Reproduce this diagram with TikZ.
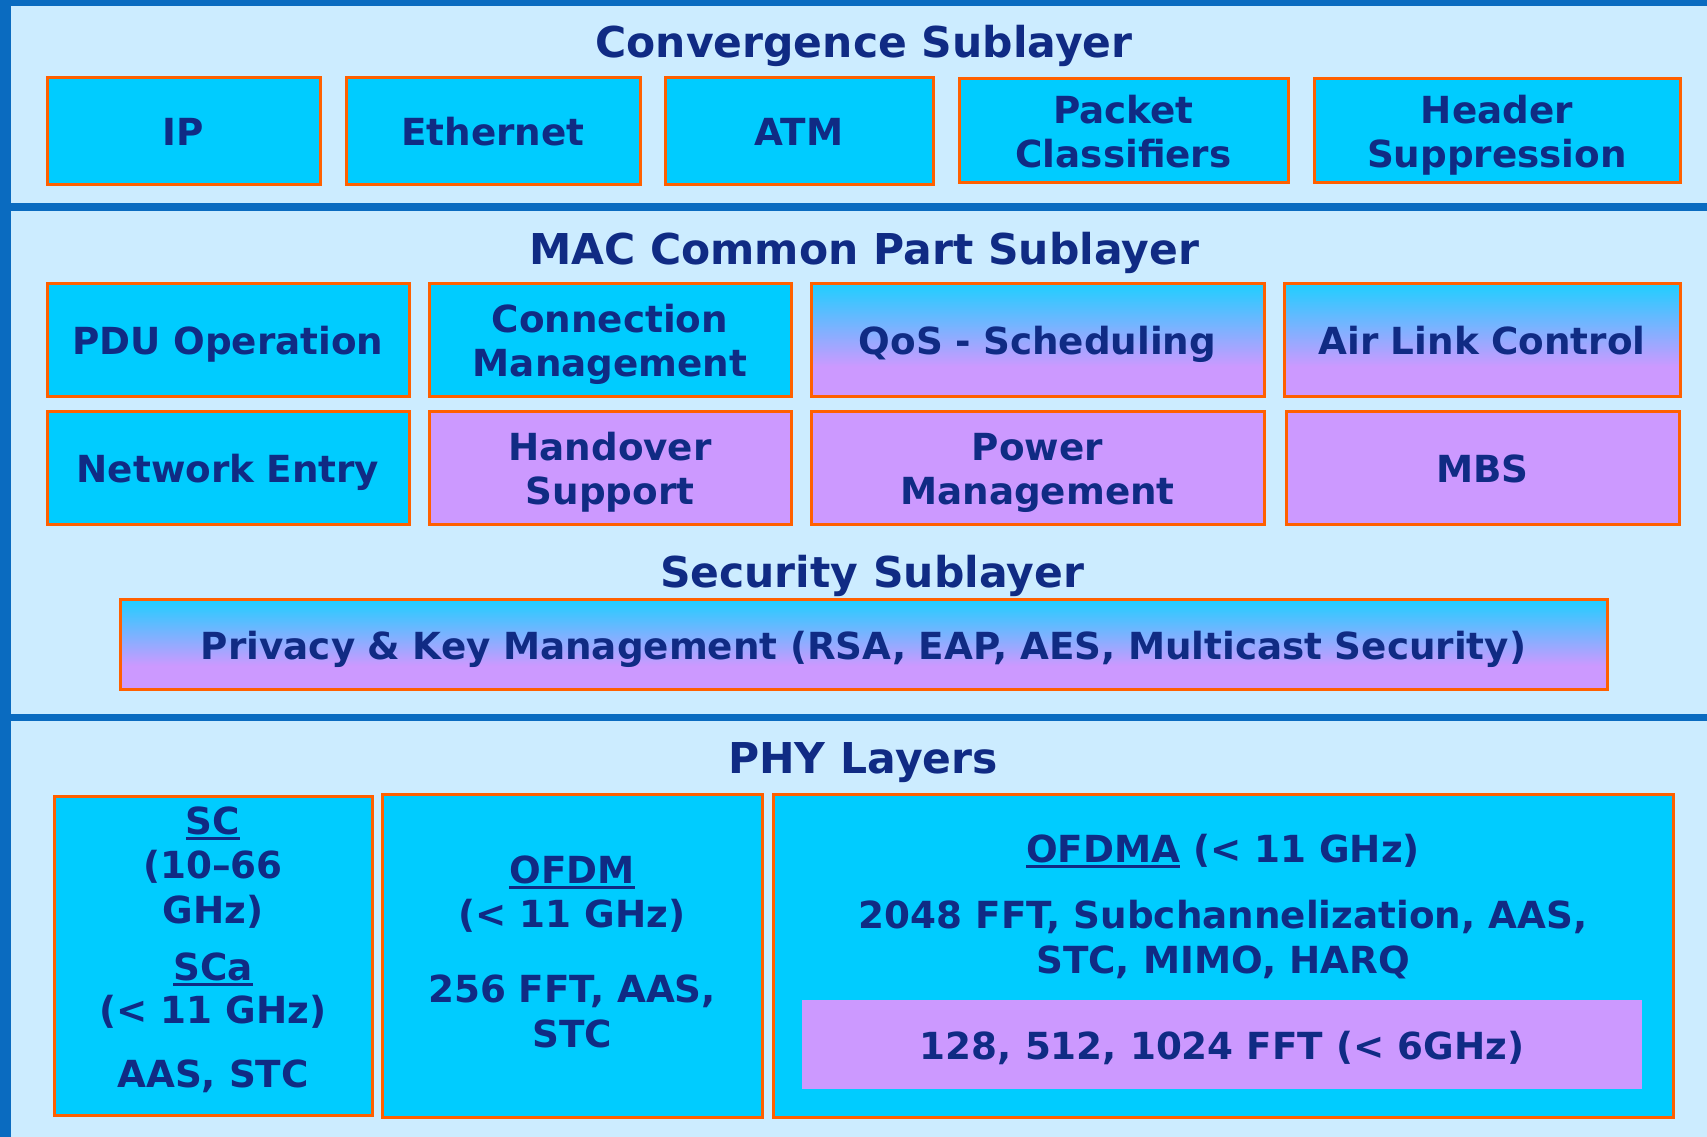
\documentclass[tikz,border=0pt]{standalone}
\usepackage{fontspec}
\setmainfont{DejaVu Sans}
\definecolor{bg}{HTML}{CCECFF}
\definecolor{stripe}{HTML}{0A6BC0}
\definecolor{cy}{HTML}{00CCFF}
\definecolor{lav}{HTML}{CC99FF}
\definecolor{cyT}{HTML}{1ECFFF}
\definecolor{edge}{HTML}{FF6000}
\definecolor{navy}{HTML}{102B84}
\pgfdeclareverticalshading{cylav}{100bp}{color(0bp)=(lav); color(38bp)=(lav); color(75bp)=(cyT); color(100bp)=(cyT)}
\newcommand\boxfont{\fontsize{37.3pt}{44pt}\selectfont\bfseries}
\newcommand\titlefont{\fontsize{42.5pt}{50pt}\selectfont\bfseries}
\newcommand\myul[1]{\setbox0\hbox{#1}\rlap{\rule[-6pt]{\wd0}{3pt}}\box0\relax}
\tikzset{
  box/.style={draw=edge, line width=3pt, inner sep=0pt, text=navy, font=\boxfont, align=center},
  cbox/.style={box, fill=cy},
  pbox/.style={box, fill=lav},
  gbox/.style={box, shade, shading=cylav},
  one/.style={text height=30pt, text depth=0pt},
  two/.style={text height=29pt, text depth=43pt},
  sz/.style 2 args={minimum width=#1pt, minimum height=#2pt, text width=#1pt-12pt},
  ttl/.style={anchor=base, text=navy, font=\titlefont, inner sep=0pt},
  lbl/.style={anchor=base, text=navy, font=\boxfont, inner sep=0pt},
}
\begin{document}
\begin{tikzpicture}[x=1pt, y=-1pt]
\useasboundingbox (0,0) rectangle (1707,1137);
\fill[bg] (0,0) rectangle (1707,1137);
\fill[stripe] (0,0) rectangle (1707,6);
\fill[stripe] (0,0) rectangle (11,1137);
\fill[stripe] (11,203) rectangle (1707,211);
\fill[stripe] (11,714) rectangle (1707,721);

% Convergence Sublayer
\node[ttl] (tcs) at (864,58) {Convergence Sublayer};
\node[cbox, one, sz={273}{106}] (ip) at (183.5,131) {IP};
\node[cbox, one, sz={294}{106}] (eth) at (493,131) {Ethernet};
\node[cbox, one, sz={268}{106}] (atm) at (799,131) {ATM};
\node[cbox, two, sz={329}{104}] (pc) at (1123.5,130.5) {Packet\\Classifiers};
\node[cbox, two, sz={366}{104}] (hs) at (1497,130.5) {Header\\Suppression};

% MAC Common Part Sublayer
\node[ttl] (tmac) at (864,264) {MAC Common Part Sublayer};
\node[cbox, one, sz={362}{113}] (pdu) at (228,339.5) {PDU Operation};
\node[cbox, two, sz={362}{113}] (cm) at (610,339.5) {Connection\\Management};
\node[gbox, one, sz={453}{113}] (qos) at (1037.5,339.5) {QoS - Scheduling};
\node[gbox, one, sz={396}{113}] (alc) at (1482,339.5) {Air Link Control};
\node[cbox, one, sz={362}{113}] (ne) at (228,467.5) {Network Entry};
\node[pbox, two, sz={362}{113}] (hos) at (610,467.5) {Handover\\Support};
\node[pbox, two, sz={453}{113}] (pm) at (1037.5,467.5) {Power\\Management};
\node[pbox, one, sz={393}{113}] (mbs) at (1482.5,467.5) {MBS};

% Security Sublayer
\node[ttl] (tsec) at (872,587) {Security Sublayer};
\node[gbox, one, sz={1487}{90}] (pkm) at (863.5,644) {Privacy \& Key Management (RSA, EAP, AES, Multicast Security)};

% PHY Layers
\node[ttl] (tphy) at (863,773) {PHY Layers};
\node[cbox, minimum width=318pt, minimum height=319pt] (sc) at (213,955.5) {};
\node[cbox, minimum width=380pt, minimum height=323pt] (ofdm) at (572,955.5) {};
\node[cbox, minimum width=900pt, minimum height=323pt] (ofdma) at (1223,955.5) {};
\node[fill=lav, inner sep=0pt, minimum width=840pt, minimum height=89pt] (fft) at (1222,1044.5) {};

\node[lbl] (sc1) at (213,834) {\myul{SC}};
\node[lbl] (sc2) at (213,878) {(10–66};
\node[lbl] (sc3) at (213,923) {GHz)};
\node[lbl] (sc4) at (213,980) {\myul{SCa}};
\node[lbl] (sc5) at (213,1023) {(< 11 GHz)};
\node[lbl] (sc6) at (213,1087) {AAS, STC};

\node[lbl] (of1) at (572,883) {\myul{OFDM}};
\node[lbl] (of2) at (572,927) {(< 11 GHz)};
\node[lbl] (of3) at (572,1002) {256 FFT, AAS,};
\node[lbl] (of4) at (572,1047) {STC};

\node[lbl] (oa1) at (1223,862) {\myul{OFDMA} (< 11 GHz)};
\node[lbl] (oa2) at (1223,928) {2048 FFT, Subchannelization, AAS,};
\node[lbl] (oa3) at (1223,973) {STC, MIMO, HARQ};
\node[lbl] (ffttxt) at (1222,1059) {128, 512, 1024 FFT (< 6GHz)};
\end{tikzpicture}
\end{document}
